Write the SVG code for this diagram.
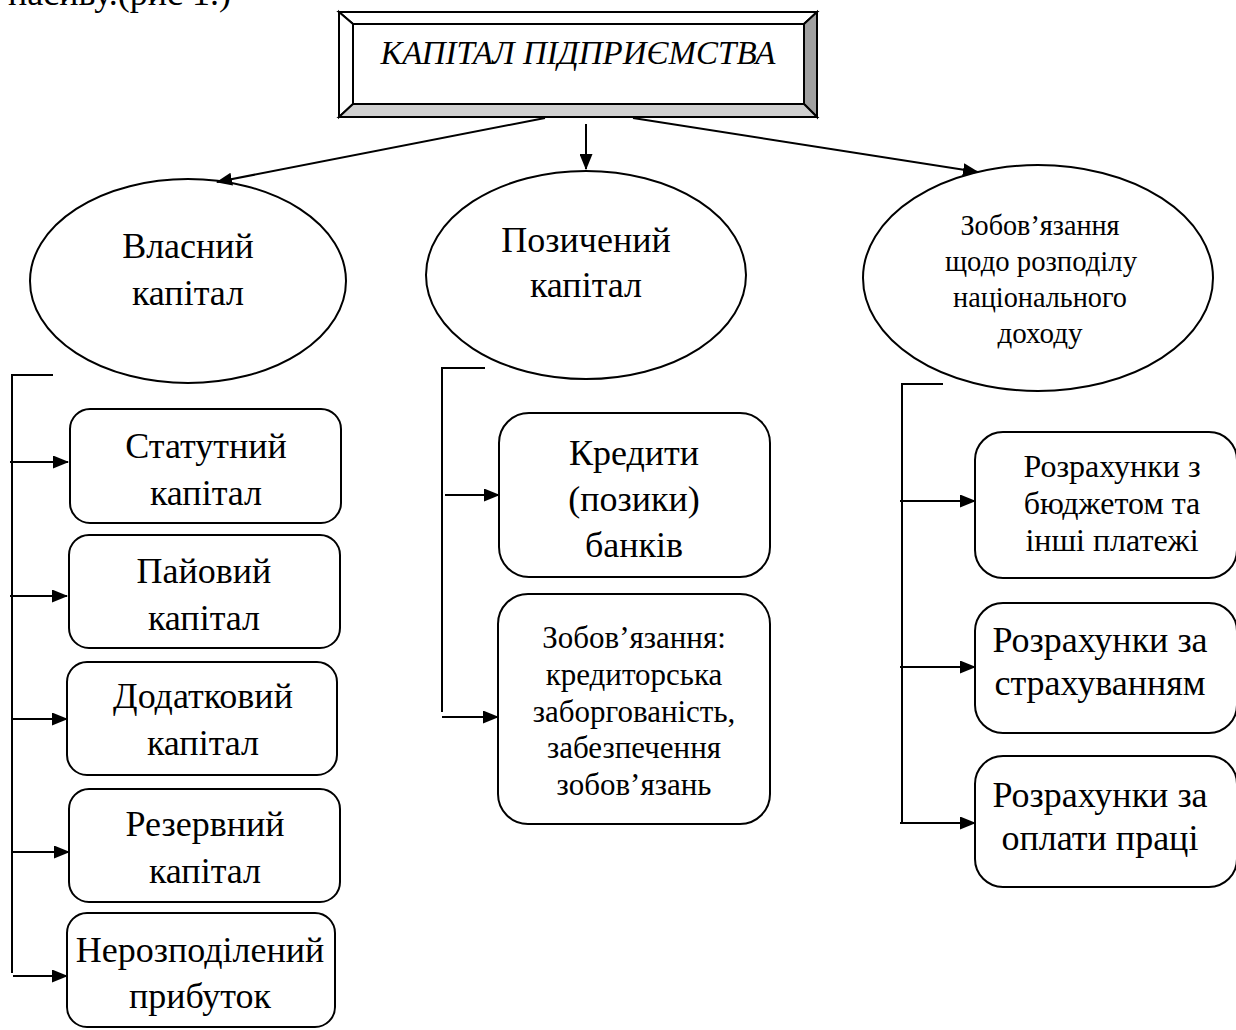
<svg xmlns="http://www.w3.org/2000/svg" width="1236" height="1030" viewBox="0 0 1236 1030">
<style>
text{font-family:"Liberation Serif","Times New Roman",serif;fill:#000;text-anchor:middle}
.b{font-size:36px}
.m{font-size:31px}
.s{font-size:32px}
.c{font-size:29px}
.n{fill:#fff;stroke:#000;stroke-width:2}
.ln{fill:none;stroke:#000;stroke-width:2}
.ar{fill:none;stroke:#000;stroke-width:2;marker-end:url(#ah)}
</style>
<defs>
<marker id="ah" viewBox="0 0 16 13" refX="15" refY="6.5" markerWidth="16" markerHeight="13" markerUnits="userSpaceOnUse" orient="auto">
<path d="M0,0 L16,6.5 L0,13 Z" fill="#000"/>
</marker>
</defs>
<rect width="1236" height="1030" fill="#fff"/>
<text x="8" y="5" class="b" style="text-anchor:start">пасиву.(рис 1.)</text>

<g id="title">
<polygon points="339,12 817,12 804,24 353,24" fill="#fff" stroke="#000" stroke-width="2"/>
<polygon points="339,12 353,24 353,104 339,117" fill="#fff" stroke="#000" stroke-width="2"/>
<polygon points="817,12 817,117 804,104 804,24" fill="#a0a0a0" stroke="#000" stroke-width="2"/>
<polygon points="339,117 817,117 804,104 353,104" fill="#d0d0d0" stroke="#000" stroke-width="2"/>
<rect x="353" y="24" width="451" height="80" fill="#fff" stroke="#000" stroke-width="2"/>
<text x="578" y="64" style="font-size:33px;font-style:italic">КАПІТАЛ ПІДПРИЄМСТВА</text>
</g>

<g id="own">
<ellipse cx="188" cy="281" rx="158" ry="102" class="n"/>
<text x="188" y="258" class="b">Власний</text>
<text x="188" y="305" class="b">капітал</text>
</g>
<g id="borrowed">
<ellipse cx="586" cy="275" rx="160" ry="104" class="n"/>
<text x="586" y="252" class="b">Позичений</text>
<text x="586" y="297" class="b">капітал</text>
</g>
<g id="obligations">
<ellipse cx="1038" cy="278" rx="175" ry="113" class="n"/>
<text x="1040" y="235" class="c" textLength="159" lengthAdjust="spacingAndGlyphs">Зобов’язання</text>
<text x="1041" y="271" class="c" textLength="192" lengthAdjust="spacingAndGlyphs">щодо розподілу</text>
<text x="1040" y="307" class="c" textLength="174" lengthAdjust="spacingAndGlyphs">національного</text>
<text x="1040" y="343" class="c" textLength="85" lengthAdjust="spacingAndGlyphs">доходу</text>
</g>

<g id="statutory">
<rect x="70" y="409" width="271" height="114" rx="20" class="n"/>
<text x="206" y="458" class="b">Статутний</text>
<text x="206" y="505" class="b">капітал</text>
</g>
<g id="share">
<rect x="69" y="535" width="271" height="113" rx="20" class="n"/>
<text x="204" y="583" class="b">Пайовий</text>
<text x="204" y="630" class="b">капітал</text>
</g>
<g id="additional">
<rect x="67" y="662" width="270" height="113" rx="20" class="n"/>
<text x="203" y="708" class="b">Додатковий</text>
<text x="203" y="755" class="b">капітал</text>
</g>
<g id="reserve">
<rect x="69" y="789" width="271" height="113" rx="20" class="n"/>
<text x="205" y="836" class="b">Резервний</text>
<text x="205" y="883" class="b">капітал</text>
</g>
<g id="retained">
<rect x="67" y="913" width="268" height="114" rx="20" class="n"/>
<text x="200" y="962" class="b">Нерозподілений</text>
<text x="200" y="1008" class="b">прибуток</text>
</g>

<g id="credits">
<rect x="499" y="413" width="271" height="164" rx="30" class="n"/>
<text x="634" y="465" class="b">Кредити</text>
<text x="634" y="511" class="b">(позики)</text>
<text x="634" y="557" class="b">банків</text>
</g>
<g id="payables">
<rect x="498" y="594" width="272" height="230" rx="30" class="n"/>
<text x="634" y="648" class="m">Зобов’язання:</text>
<text x="634" y="685" class="m">кредиторська</text>
<text x="634" y="722" class="m">заборгованість,</text>
<text x="634" y="758" class="m">забезпечення</text>
<text x="634" y="795" class="m"> зобов’язань</text>
</g>

<g id="budget">
<rect x="975" y="432" width="262" height="146" rx="28" class="n"/>
<text x="1112" y="477" class="s">Розрахунки з</text>
<text x="1112" y="514" class="s">бюджетом та</text>
<text x="1112" y="551" class="s">інші платежі</text>
</g>
<g id="insurance">
<rect x="975" y="603" width="262" height="130" rx="28" class="n"/>
<text x="1100" y="652" class="b">Розрахунки за</text>
<text x="1100" y="695" class="b">страхуванням</text>
</g>
<g id="wages">
<rect x="975" y="756" width="262" height="131" rx="28" class="n"/>
<text x="1100" y="807" class="b">Розрахунки за</text>
<text x="1100" y="850" class="b">оплати праці</text>
</g>

<g id="connectors">
<line x1="545" y1="118" x2="217" y2="182" class="ar"/>
<line x1="586" y1="124" x2="586" y2="169" class="ar"/>
<line x1="633" y1="118" x2="978" y2="172" class="ar"/>

<polyline points="53,375 12,375 12,973" class="ln"/>
<line x1="10" y1="462" x2="68" y2="462" class="ar"/>
<line x1="10" y1="596" x2="67" y2="596" class="ar"/>
<line x1="13" y1="719" x2="67" y2="719" class="ar"/>
<line x1="13" y1="852" x2="69" y2="852" class="ar"/>
<line x1="13" y1="976" x2="67" y2="976" class="ar"/>

<polyline points="485,368 442,368 442,712" class="ln"/>
<line x1="445" y1="495" x2="499" y2="495" class="ar"/>
<line x1="442" y1="717" x2="498" y2="717" class="ar"/>

<polyline points="943,384 902,384 902,823" class="ln"/>
<line x1="900" y1="501" x2="975" y2="501" class="ar"/>
<line x1="900" y1="667" x2="975" y2="667" class="ar"/>
<line x1="900" y1="823" x2="975" y2="823" class="ar"/>
</g>
</svg>
